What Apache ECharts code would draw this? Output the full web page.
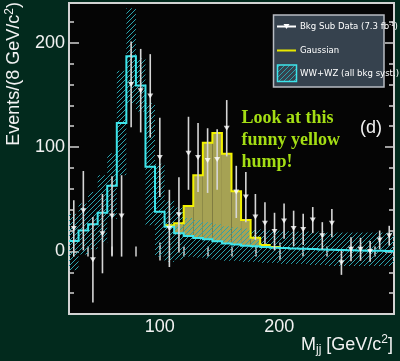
<!DOCTYPE html>
<html><head><meta charset="utf-8">
<script src="https://cdn.jsdelivr.net/npm/echarts@6/dist/echarts.min.js"></script>
<style>html,body{margin:0;padding:0;background:#022a1d;}#c{width:400px;height:361px;}</style>
</head><body><div id="c"></div>
<script>
// ---- data ----
const massBins = [28,36,44,52,60,68,76,84,92,100,108,116,124,132,140,148,156,164,172,180,188,196,204,212,220,228,236,244,252,260,268,276,284,292];
const binHalf = 4;
const dataVal = [22,39,-8,17,34,34,160,154,149,90,22,35,94,90,87,88,118,57,52,33,27,19,29,22,21,30,15,27,-11,2,2,0,11,15];
const dataErr = [27,38,41,38,38,39,41,40,40,38,37,36,35,33,31,29,27,25,24,22,20,18,17,17,15,12.5,13,13.5,11.5,11.5,11,10,9,9.5];
const wwwz = [10,20,26,37,63,123,187,159,81,38,23.5,17.3,14.8,12.9,11.6,9.7,7.5,6.5,5.5,4.9,4.3,3.6,3.2,2.8,2.5,2.2,1.9,1.6,1.3,1.1,0.9,0.7,0.5,0.4];
const gausTotal = [null,null,null,null,null,null,null,null,null,null,25,27,43.5,73,104,113.5,93.5,57.5,30,13,6,4.2,null,null,null,null,null,null,null,null,null,null,null,null];
const bandUp = [36,46,57,73,94,173,233,185,142,84,49,42,32,30,28,26,24,23,22,21,21,20,20,19,19,19,19,18,18,18,18,18,18,18];
const bandLo = [-18,-3,2,8,31,73,142,134,25,-5,-10,-8,-5,-6,-7,-8,-9,-9,-10,-10,-11,-11,-12,-12,-12,-13,-13,-14,-14,-14,-14,-14,-14,-14];
const xRange = [24, 296];
const yRange = [-60, 238];
const xMajor = [100, 200];
const xMinor = [40,60,80,120,140,160,180,220,240,260,280];
const yMajor = [0, 100, 200];
const yMinor = [-40,-20,20,40,60,80,120,140,160,180,220];

// ---- styles ----
const FONT = '"Liberation Sans", Arial, Helvetica, sans-serif';
const NARROW = '"Liberation Sans Narrow", "DejaVu Sans Condensed", "Liberation Sans", sans-serif';
const FRAME = '#d2d2d2';
const TXT = '#f2f2f2';
const CYAN = '#3ee4ea';
const YEL = '#f2f200';
const OLIVE = '#a6a254';

function makeHatch() {
  const s = 5, c = document.createElement('canvas');
  c.width = s; c.height = s;
  const g = c.getContext('2d');
  g.strokeStyle = '#2aa2ae';
  g.lineWidth = 1;
  g.beginPath();
  g.moveTo(0, s); g.lineTo(s, 0);
  g.moveTo(-1, 1); g.lineTo(1, -1);
  g.moveTo(s - 1, s + 1); g.lineTo(s + 1, s - 1);
  g.stroke();
  return c;
}
const hatch = { image: makeHatch(), repeat: 'repeat' };

function xAx(pos, vals, len, labels) {
  return {
    type: 'value', min: xRange[0], max: xRange[1], position: pos,
    axisLine: { show: false }, splitLine: { show: false },
    axisTick: { show: true, inside: true, length: len, customValues: vals, lineStyle: { color: FRAME, width: 1.5 } },
    axisLabel: labels ? { show: true, customValues: vals, color: TXT, fontSize: 18, fontFamily: FONT, margin: 4 } : { show: false }
  };
}
function yAx(pos, vals, len, labels) {
  return {
    type: 'value', min: yRange[0], max: yRange[1], position: pos,
    axisLine: { show: false }, splitLine: { show: false },
    axisTick: { show: true, inside: true, length: len, customValues: vals, lineStyle: { color: FRAME, width: 1.5 } },
    axisLabel: labels ? { show: true, customValues: vals, color: TXT, fontSize: 18, fontFamily: FONT, margin: 4 } : { show: false }
  };
}

function stepLine(vals, from, to, dropTo) {
  return function (params, api) {
    if (params.dataIndex !== 0) return null;
    const pts = [];
    for (let i = from; i <= to; i++) {
      pts.push(api.coord([massBins[i] - binHalf, vals[i]]));
      pts.push(api.coord([massBins[i] + binHalf, vals[i]]));
    }
    if (dropTo != null) pts.push(api.coord([massBins[to] + binHalf, dropTo]));
    return { type: 'polyline', shape: { points: pts }, style: { stroke: null, fill: null } };
  };
}

const bandData = massBins.map((c, i) => [c, bandLo[i], bandUp[i]]);
const fillData = massBins.map((c, i) => [c, wwwz[i], gausTotal[i]]).filter(d => d[2] != null);
const pointData = massBins.map((c, i) => [c, dataVal[i], dataErr[i]]);
const firstG = gausTotal.findIndex(v => v != null);
const lastG = gausTotal.length - 1 - gausTotal.slice().reverse().findIndex(v => v != null);

const chart = echarts.init(document.getElementById('c'), null, { renderer: 'canvas' });
chart.setOption({
  backgroundColor: '#022a1d',
  animation: false,
  grid: { left: 69, right: 6, top: 3, bottom: 47, show: true, backgroundColor: '#050505', borderColor: FRAME, borderWidth: 2 },
  xAxis: [xAx('bottom', xMajor, 9, true), xAx('bottom', xMinor, 5, false), xAx('top', xMajor, 9, false), xAx('top', xMinor, 5, false)],
  yAxis: [yAx('left', yMajor, 10, true), yAx('left', yMinor, 5, false), yAx('right', yMajor, 9, false), yAx('right', yMinor, 5, false)],
  series: [
    { // Gaussian fill between background and total
      type: 'custom', clip: true, z: 2, data: fillData,
      renderItem: (p, api) => {
        const a = api.coord([api.value(0) - binHalf, api.value(2)]);
        const b = api.coord([api.value(0) + binHalf, api.value(1)]);
        return { type: 'rect', shape: { x: a[0], y: a[1], width: b[0] - a[0], height: b[1] - a[1] }, style: { fill: OLIVE } };
      }
    },
    { // hatched syst band
      type: 'custom', clip: true, z: 3, data: bandData,
      renderItem: (p, api) => {
        const a = api.coord([api.value(0) - binHalf, api.value(2)]);
        const b = api.coord([api.value(0) + binHalf, api.value(1)]);
        return { type: 'rect', shape: { x: a[0], y: a[1], width: b[0] - a[0], height: b[1] - a[1] }, style: { fill: hatch } };
      }
    },
    { // Gaussian+bkg step line
      type: 'custom', clip: true, z: 4, data: fillData,
      renderItem: (p, api) => {
        const r = stepLine(gausTotal, firstG, lastG, wwwz[lastG])(p, api);
        if (r) r.style = { stroke: YEL, lineWidth: 2, fill: null };
        return r;
      }
    },
    { // WW+WZ step line
      type: 'custom', clip: true, z: 5, data: bandData,
      renderItem: (p, api) => {
        const r = stepLine(wwwz, 0, wwwz.length - 1, null)(p, api);
        if (r) r.style = { stroke: CYAN, lineWidth: 2, fill: null };
        return r;
      }
    },
    { // error bars
      type: 'custom', clip: true, z: 6, data: pointData,
      renderItem: (p, api) => {
        const a = api.coord([api.value(0), api.value(1) + api.value(2)]);
        const b = api.coord([api.value(0), api.value(1) - api.value(2)]);
        return { type: 'line', shape: { x1: a[0], y1: a[1], x2: b[0], y2: b[1] }, style: { stroke: '#d6d6d6', lineWidth: 1.6 } };
      }
    },
    { // data markers
      type: 'scatter', z: 7, symbol: 'triangle', symbolRotate: 180, symbolSize: [6, 5],
      itemStyle: { color: '#ffffff' }, data: pointData.map(d => [d[0], d[1]])
    }
  ],
  graphic: [
    { type: 'text', x: 14, y: 2, rotation: Math.PI / 2, z: 10,
      style: { text: '{a|Events/(8 GeV/c}{s|2}{a|)}', align: 'right', textAlign: 'right', verticalAlign: 'middle', textVerticalAlign: 'middle',
        rich: { a: { fontSize: 18, fontFamily: FONT, fill: TXT, color: TXT, lineHeight: 20 },
                s: { fontSize: 12, fontFamily: FONT, fill: TXT, color: TXT, verticalAlign: 'top', lineHeight: 20 } } } },
    { type: 'text', x: 393, y: 345, z: 10,
      style: { text: '{a|M}{b|jj}{a| [GeV/c}{s|2}{a|]}', align: 'right', textAlign: 'right', verticalAlign: 'middle', textVerticalAlign: 'middle',
        rich: { a: { fontSize: 18, fontFamily: FONT, fill: TXT, color: TXT, lineHeight: 22 },
                b: { fontSize: 12, fontFamily: FONT, fill: TXT, color: TXT, verticalAlign: 'bottom', lineHeight: 22 },
                s: { fontSize: 12, fontFamily: FONT, fill: TXT, color: TXT, verticalAlign: 'top', lineHeight: 22 } } } },
    // legend box
    { type: 'rect', z: 20, shape: { x: 273.5, y: 15, width: 110.5, height: 72 }, style: { fill: '#36424e', stroke: '#b8bcc2', lineWidth: 1.5 } },
    { type: 'line', z: 21, shape: { x1: 277, y1: 26.5, x2: 296, y2: 26.5 }, style: { stroke: '#ffffff', lineWidth: 2 } },
    { type: 'polygon', z: 22, shape: { points: [[283.5, 24], [289.5, 24], [286.5, 29]] }, style: { fill: '#ffffff' } },
    { type: 'text', x: 300, y: 27, z: 21,
      style: { text: '{a|Bkg Sub Data (7.3 fb}{s|-1}{a|)}', align: 'left', textAlign: 'left', verticalAlign: 'middle', textVerticalAlign: 'middle',
        rich: { a: { fontSize: 9.5, fontFamily: NARROW, fill: '#ffffff', color: '#ffffff', lineHeight: 12 },
                s: { fontSize: 6, fontFamily: NARROW, fill: '#ffffff', color: '#ffffff', verticalAlign: 'top', lineHeight: 12 } } } },
    { type: 'line', z: 21, shape: { x1: 277, y1: 50.5, x2: 296, y2: 50.5 }, style: { stroke: '#e8e800', lineWidth: 2 } },
    { type: 'text', x: 300, y: 51, z: 21,
      style: { text: 'Gaussian', fontSize: 9.5, fontFamily: NARROW, fill: '#ffffff', align: 'left', textAlign: 'left', verticalAlign: 'middle', textVerticalAlign: 'middle' } },
    { type: 'rect', z: 21, shape: { x: 277.5, y: 65, width: 19, height: 16.5 }, style: { fill: hatch, stroke: CYAN, lineWidth: 1.5 } },
    { type: 'text', x: 300, y: 73.5, z: 21,
      style: { text: 'WW+WZ (all bkg syst.)', fontSize: 9.5, fontFamily: NARROW, fill: '#ffffff', align: 'left', textAlign: 'left', verticalAlign: 'middle', textVerticalAlign: 'middle' } },
    // annotations
    { type: 'text', x: 241.5, y: 107, z: 21,
      style: { text: 'Look at this\nfunny yellow\nhump!', fontSize: 18, fontWeight: 'bold', fontFamily: '"Liberation Serif", "Times New Roman", serif',
        fill: '#a4de14', lineHeight: 22, align: 'left', textAlign: 'left', verticalAlign: 'top', textVerticalAlign: 'top' } },
    { type: 'text', x: 371, y: 128, z: 21,
      style: { text: '(d)', fontSize: 18, fontFamily: FONT, fill: TXT, align: 'center', textAlign: 'center', verticalAlign: 'middle', textVerticalAlign: 'middle' } }
  ]
});
</script>
</body></html>
